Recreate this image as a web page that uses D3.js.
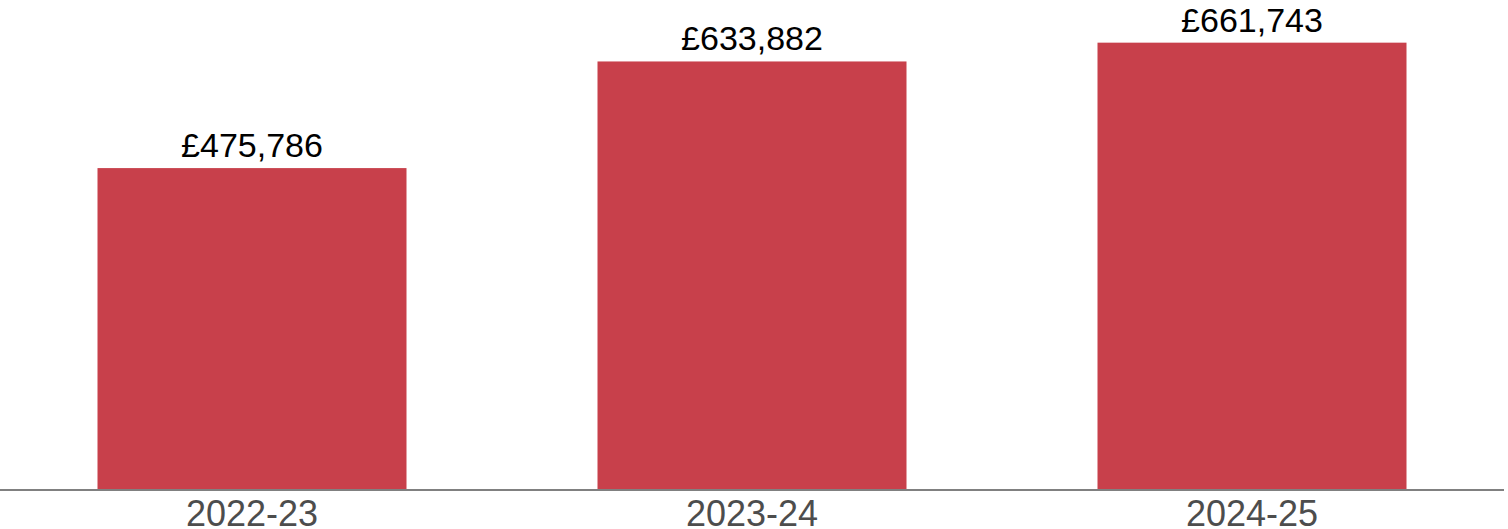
<!DOCTYPE html>
<html>
<head>
<meta charset="utf-8">
<script src="https://cdn.jsdelivr.net/npm/d3@7"></script>
<style>
  html, body { margin: 0; padding: 0; background: #ffffff; }
  svg { display: block; }
</style>
</head>
<body>
<svg id="chart" width="1508" height="529"></svg>
<script>
// Annual totals by financial year
const years = ["2022-23", "2023-24", "2024-25"];
const totals = [475786, 633882, 661743];

const width = 1508, height = 529;
const baseline = 489;
const fontFamily = "'Liberation Sans', Arial, Helvetica, sans-serif";

const svg = d3.select("#chart");

const x = d3.scaleBand()
  .domain(years)
  .range([0, 1504])
  .paddingInner(0.382)
  .paddingOuter(0.195);

const y = d3.scaleLinear()
  .domain([0, 725000])
  .range([baseline, 0]);

const fmt = v => "£" + d3.format(",")(v);

const data = years.map((yr, i) => ({ year: yr, value: totals[i] }));

// Bars
svg.append("g")
  .selectAll("rect")
  .data(data)
  .join("rect")
  .attr("x", d => x(d.year))
  .attr("y", d => y(d.value))
  .attr("width", x.bandwidth())
  .attr("height", d => baseline - y(d.value))
  .attr("fill", "#c8404b");

// Value labels above bars
svg.append("g")
  .selectAll("text")
  .data(data)
  .join("text")
  .attr("x", d => x(d.year) + x.bandwidth() / 2)
  .attr("y", d => y(d.value) - 11)
  .attr("text-anchor", "middle")
  .attr("font-family", fontFamily)
  .attr("font-size", 34)
  .attr("fill", "#000000")
  .text(d => fmt(d.value));

// Category axis
const xAxis = svg.append("g")
  .attr("transform", `translate(0,${baseline + 1})`)
  .call(d3.axisBottom(x).tickSize(0).tickPadding(0));

xAxis.select(".domain")
  .attr("d", "M0,0H1504")
  .attr("stroke", "#808080")
  .attr("stroke-width", 2);

xAxis.selectAll(".tick text")
  .attr("dy", null)
  .attr("y", 36)
  .attr("font-family", fontFamily)
  .attr("font-size", 36)
  .attr("fill", "#4d4d4d");
</script>
</body>
</html>
